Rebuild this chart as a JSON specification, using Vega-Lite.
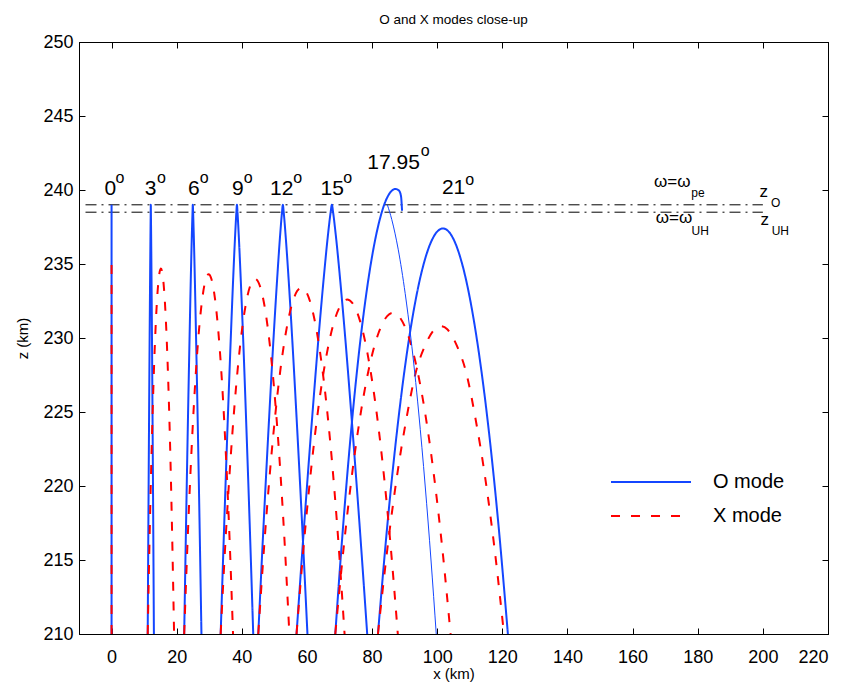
{
  "$schema": "https://vega.github.io/schema/vega-lite/v6.json",
  "width": 749,
  "height": 592,
  "autosize": {"type": "none"},
  "padding": {"left": 79, "top": 42, "right": 23, "bottom": 51},
  "background": "white",
  "title": {"text": "O and X modes close-up", "fontSize": 13.5, "fontWeight": "normal", "font": "Liberation Sans", "color": "black", "offset": 7},
  "config": {
    "font": "Liberation Sans",
    "view": {"stroke": "black", "strokeWidth": 1},
    "axis": {"grid": false, "domainColor": "black", "tickColor": "black", "labelColor": "black", "titleColor": "black", "labelFontSize": 18, "titleFontSize": 15, "titleFontWeight": "normal", "tickSize": -6, "labelFont": "Liberation Sans", "titleFont": "Liberation Sans"}
  },
  "datasets": {
    "levels": [
      {"c": "zO", "x": -8, "z": 239}, {"c": "zO", "x": 200, "z": 239},
      {"c": "zUH", "x": -8, "z": 238.5}, {"c": "zUH", "x": 200, "z": 238.5}
    ],
    "traj": [
      {"c": "O0", "m": "O mode", "x": 0, "z": 210}, {"c": "O0", "m": "O mode", "x": 0, "z": 239},
      {"c": "O3", "m": "O mode", "x": 11.10, "z": 210}, {"c": "O3", "m": "O mode", "x": 11.32, "z": 218}, {"c": "O3", "m": "O mode", "x": 11.53, "z": 225}, {"c": "O3", "m": "O mode", "x": 11.69, "z": 230}, {"c": "O3", "m": "O mode", "x": 11.83, "z": 234}, {"c": "O3", "m": "O mode", "x": 11.95, "z": 237}, {"c": "O3", "m": "O mode", "x": 12.02, "z": 238.5}, {"c": "O3", "m": "O mode", "x": 12.05, "z": 239}, {"c": "O3", "m": "O mode", "x": 12.08, "z": 238.5}, {"c": "O3", "m": "O mode", "x": 12.15, "z": 237}, {"c": "O3", "m": "O mode", "x": 12.27, "z": 234}, {"c": "O3", "m": "O mode", "x": 12.41, "z": 230}, {"c": "O3", "m": "O mode", "x": 12.57, "z": 225}, {"c": "O3", "m": "O mode", "x": 12.78, "z": 218}, {"c": "O3", "m": "O mode", "x": 13.00, "z": 210},
      {"c": "O6", "m": "O mode", "x": 22.30, "z": 210}, {"c": "O6", "m": "O mode", "x": 22.92, "z": 218}, {"c": "O6", "m": "O mode", "x": 23.50, "z": 225}, {"c": "O6", "m": "O mode", "x": 23.95, "z": 230}, {"c": "O6", "m": "O mode", "x": 24.33, "z": 234}, {"c": "O6", "m": "O mode", "x": 24.66, "z": 237}, {"c": "O6", "m": "O mode", "x": 24.86, "z": 238.5}, {"c": "O6", "m": "O mode", "x": 24.95, "z": 239}, {"c": "O6", "m": "O mode", "x": 25.04, "z": 238.5}, {"c": "O6", "m": "O mode", "x": 25.24, "z": 237}, {"c": "O6", "m": "O mode", "x": 25.57, "z": 234}, {"c": "O6", "m": "O mode", "x": 25.95, "z": 230}, {"c": "O6", "m": "O mode", "x": 26.40, "z": 225}, {"c": "O6", "m": "O mode", "x": 26.98, "z": 218}, {"c": "O6", "m": "O mode", "x": 27.60, "z": 210},
      {"c": "O9", "m": "O mode", "x": 33.50, "z": 210}, {"c": "O9", "m": "O mode", "x": 34.68, "z": 218}, {"c": "O9", "m": "O mode", "x": 35.77, "z": 225}, {"c": "O9", "m": "O mode", "x": 36.61, "z": 230}, {"c": "O9", "m": "O mode", "x": 37.34, "z": 234}, {"c": "O9", "m": "O mode", "x": 37.96, "z": 237}, {"c": "O9", "m": "O mode", "x": 38.33, "z": 238.5}, {"c": "O9", "m": "O mode", "x": 38.50, "z": 239}, {"c": "O9", "m": "O mode", "x": 38.67, "z": 238.5}, {"c": "O9", "m": "O mode", "x": 39.04, "z": 237}, {"c": "O9", "m": "O mode", "x": 39.66, "z": 234}, {"c": "O9", "m": "O mode", "x": 40.40, "z": 230}, {"c": "O9", "m": "O mode", "x": 41.23, "z": 225}, {"c": "O9", "m": "O mode", "x": 42.33, "z": 218}, {"c": "O9", "m": "O mode", "x": 43.50, "z": 210},
      {"c": "O12", "m": "O mode", "x": 45.05, "z": 210}, {"c": "O12", "m": "O mode", "x": 46.82, "z": 218}, {"c": "O12", "m": "O mode", "x": 48.48, "z": 225}, {"c": "O12", "m": "O mode", "x": 49.74, "z": 230}, {"c": "O12", "m": "O mode", "x": 50.85, "z": 234}, {"c": "O12", "m": "O mode", "x": 51.78, "z": 237}, {"c": "O12", "m": "O mode", "x": 52.34, "z": 238.5}, {"c": "O12", "m": "O mode", "x": 52.60, "z": 239}, {"c": "O12", "m": "O mode", "x": 52.86, "z": 238.5}, {"c": "O12", "m": "O mode", "x": 53.42, "z": 237}, {"c": "O12", "m": "O mode", "x": 54.36, "z": 234}, {"c": "O12", "m": "O mode", "x": 55.46, "z": 230}, {"c": "O12", "m": "O mode", "x": 56.72, "z": 225}, {"c": "O12", "m": "O mode", "x": 58.38, "z": 218}, {"c": "O12", "m": "O mode", "x": 60.15, "z": 210},
      {"c": "O15", "m": "O mode", "x": 56.80, "z": 210}, {"c": "O15", "m": "O mode", "x": 59.35, "z": 218}, {"c": "O15", "m": "O mode", "x": 61.73, "z": 225}, {"c": "O15", "m": "O mode", "x": 63.54, "z": 230}, {"c": "O15", "m": "O mode", "x": 65.13, "z": 234}, {"c": "O15", "m": "O mode", "x": 66.47, "z": 237}, {"c": "O15", "m": "O mode", "x": 67.28, "z": 238.5}, {"c": "O15", "m": "O mode", "x": 67.65, "z": 239}, {"c": "O15", "m": "O mode", "x": 68.02, "z": 238.5}, {"c": "O15", "m": "O mode", "x": 68.83, "z": 237}, {"c": "O15", "m": "O mode", "x": 70.17, "z": 234}, {"c": "O15", "m": "O mode", "x": 71.76, "z": 230}, {"c": "O15", "m": "O mode", "x": 73.57, "z": 225}, {"c": "O15", "m": "O mode", "x": 75.95, "z": 218}, {"c": "O15", "m": "O mode", "x": 78.50, "z": 210},
      {"c": "O18", "m": "O mode", "x": 68.70, "z": 210}, {"c": "O18", "m": "O mode", "x": 70.31, "z": 215}, {"c": "O18", "m": "O mode", "x": 72.09, "z": 220}, {"c": "O18", "m": "O mode", "x": 74.10, "z": 225}, {"c": "O18", "m": "O mode", "x": 76.49, "z": 230}, {"c": "O18", "m": "O mode", "x": 78.23, "z": 233}, {"c": "O18", "m": "O mode", "x": 80.39, "z": 236}, {"c": "O18", "m": "O mode", "x": 82.35, "z": 238}, {"c": "O18", "m": "O mode", "x": 83.71, "z": 239}, {"c": "O18", "m": "O mode", "x": 84.89, "z": 239.6}, {"c": "O18", "m": "O mode", "x": 85.81, "z": 239.9}, {"c": "O18", "m": "O mode", "x": 87.20, "z": 240.07}, {"c": "O18", "m": "O mode", "x": 88.30, "z": 239.95}, {"c": "O18", "m": "O mode", "x": 88.90, "z": 239.55}, {"c": "O18", "m": "O mode", "x": 89.20, "z": 238.6},
      {"c": "O21", "m": "O mode", "x": 81.80, "z": 210}, {"c": "O21", "m": "O mode", "x": 84.79, "z": 217.6}, {"c": "O21", "m": "O mode", "x": 87.79, "z": 223.97}, {"c": "O21", "m": "O mode", "x": 90.78, "z": 229.11}, {"c": "O21", "m": "O mode", "x": 93.77, "z": 233.02}, {"c": "O21", "m": "O mode", "x": 96.76, "z": 235.69}, {"c": "O21", "m": "O mode", "x": 99.76, "z": 237.13}, {"c": "O21", "m": "O mode", "x": 101.75, "z": 237.4}, {"c": "O21", "m": "O mode", "x": 103.75, "z": 237.13}, {"c": "O21", "m": "O mode", "x": 106.74, "z": 235.69}, {"c": "O21", "m": "O mode", "x": 109.73, "z": 233.02}, {"c": "O21", "m": "O mode", "x": 112.72, "z": 229.11}, {"c": "O21", "m": "O mode", "x": 115.72, "z": 223.97}, {"c": "O21", "m": "O mode", "x": 118.71, "z": 217.6}, {"c": "O21", "m": "O mode", "x": 121.70, "z": 210},
      {"c": "X0", "m": "X mode", "x": 0, "z": 210}, {"c": "X0", "m": "X mode", "x": 0, "z": 235},
      {"c": "X3", "m": "X mode", "x": 11.10, "z": 210}, {"c": "X3", "m": "X mode", "x": 11.71, "z": 216.85}, {"c": "X3", "m": "X mode", "x": 12.32, "z": 222.60}, {"c": "X3", "m": "X mode", "x": 12.92, "z": 227.23}, {"c": "X3", "m": "X mode", "x": 13.53, "z": 230.75}, {"c": "X3", "m": "X mode", "x": 14.14, "z": 233.16}, {"c": "X3", "m": "X mode", "x": 14.75, "z": 234.45}, {"c": "X3", "m": "X mode", "x": 15.15, "z": 234.7}, {"c": "X3", "m": "X mode", "x": 15.56, "z": 234.45}, {"c": "X3", "m": "X mode", "x": 16.16, "z": 233.16}, {"c": "X3", "m": "X mode", "x": 16.77, "z": 230.75}, {"c": "X3", "m": "X mode", "x": 17.38, "z": 227.23}, {"c": "X3", "m": "X mode", "x": 17.99, "z": 222.60}, {"c": "X3", "m": "X mode", "x": 18.59, "z": 216.85}, {"c": "X3", "m": "X mode", "x": 19.20, "z": 210},
      {"c": "X6", "m": "X mode", "x": 22.30, "z": 210}, {"c": "X6", "m": "X mode", "x": 23.43, "z": 216.74}, {"c": "X6", "m": "X mode", "x": 24.55, "z": 222.39}, {"c": "X6", "m": "X mode", "x": 25.68, "z": 226.95}, {"c": "X6", "m": "X mode", "x": 26.80, "z": 230.41}, {"c": "X6", "m": "X mode", "x": 27.93, "z": 232.78}, {"c": "X6", "m": "X mode", "x": 29.05, "z": 234.06}, {"c": "X6", "m": "X mode", "x": 29.80, "z": 234.3}, {"c": "X6", "m": "X mode", "x": 30.55, "z": 234.06}, {"c": "X6", "m": "X mode", "x": 31.68, "z": 232.78}, {"c": "X6", "m": "X mode", "x": 32.80, "z": 230.41}, {"c": "X6", "m": "X mode", "x": 33.93, "z": 226.95}, {"c": "X6", "m": "X mode", "x": 35.05, "z": 222.39}, {"c": "X6", "m": "X mode", "x": 36.18, "z": 216.74}, {"c": "X6", "m": "X mode", "x": 37.30, "z": 210},
      {"c": "X9", "m": "X mode", "x": 33.50, "z": 210}, {"c": "X9", "m": "X mode", "x": 35.08, "z": 216.66}, {"c": "X9", "m": "X mode", "x": 36.67, "z": 222.24}, {"c": "X9", "m": "X mode", "x": 38.25, "z": 226.74}, {"c": "X9", "m": "X mode", "x": 39.83, "z": 230.16}, {"c": "X9", "m": "X mode", "x": 41.41, "z": 232.5}, {"c": "X9", "m": "X mode", "x": 43.00, "z": 233.76}, {"c": "X9", "m": "X mode", "x": 44.05, "z": 234.0}, {"c": "X9", "m": "X mode", "x": 45.11, "z": 233.76}, {"c": "X9", "m": "X mode", "x": 46.69, "z": 232.5}, {"c": "X9", "m": "X mode", "x": 48.27, "z": 230.16}, {"c": "X9", "m": "X mode", "x": 49.85, "z": 226.74}, {"c": "X9", "m": "X mode", "x": 51.44, "z": 222.24}, {"c": "X9", "m": "X mode", "x": 53.02, "z": 216.66}, {"c": "X9", "m": "X mode", "x": 54.60, "z": 210},
      {"c": "X12", "m": "X mode", "x": 45.05, "z": 210}, {"c": "X12", "m": "X mode", "x": 47.04, "z": 216.49}, {"c": "X12", "m": "X mode", "x": 49.03, "z": 221.93}, {"c": "X12", "m": "X mode", "x": 51.01, "z": 226.32}, {"c": "X12", "m": "X mode", "x": 53.00, "z": 229.66}, {"c": "X12", "m": "X mode", "x": 54.99, "z": 231.94}, {"c": "X12", "m": "X mode", "x": 56.98, "z": 233.17}, {"c": "X12", "m": "X mode", "x": 58.30, "z": 233.4}, {"c": "X12", "m": "X mode", "x": 59.63, "z": 233.17}, {"c": "X12", "m": "X mode", "x": 61.61, "z": 231.94}, {"c": "X12", "m": "X mode", "x": 63.60, "z": 229.66}, {"c": "X12", "m": "X mode", "x": 65.59, "z": 226.32}, {"c": "X12", "m": "X mode", "x": 67.58, "z": 221.93}, {"c": "X12", "m": "X mode", "x": 69.56, "z": 216.49}, {"c": "X12", "m": "X mode", "x": 71.55, "z": 210},
      {"c": "X15", "m": "X mode", "x": 56.80, "z": 210}, {"c": "X15", "m": "X mode", "x": 59.13, "z": 216.27}, {"c": "X15", "m": "X mode", "x": 61.47, "z": 221.53}, {"c": "X15", "m": "X mode", "x": 63.80, "z": 225.76}, {"c": "X15", "m": "X mode", "x": 66.13, "z": 228.98}, {"c": "X15", "m": "X mode", "x": 68.46, "z": 231.19}, {"c": "X15", "m": "X mode", "x": 70.80, "z": 232.37}, {"c": "X15", "m": "X mode", "x": 72.35, "z": 232.6}, {"c": "X15", "m": "X mode", "x": 73.91, "z": 232.37}, {"c": "X15", "m": "X mode", "x": 76.24, "z": 231.19}, {"c": "X15", "m": "X mode", "x": 78.57, "z": 228.98}, {"c": "X15", "m": "X mode", "x": 80.90, "z": 225.76}, {"c": "X15", "m": "X mode", "x": 83.24, "z": 221.53}, {"c": "X15", "m": "X mode", "x": 85.57, "z": 216.27}, {"c": "X15", "m": "X mode", "x": 87.90, "z": 210},
      {"c": "X18", "m": "X mode", "x": 68.70, "z": 210}, {"c": "X18", "m": "X mode", "x": 71.36, "z": 216.02}, {"c": "X18", "m": "X mode", "x": 74.01, "z": 221.07}, {"c": "X18", "m": "X mode", "x": 76.67, "z": 225.14}, {"c": "X18", "m": "X mode", "x": 79.32, "z": 228.23}, {"c": "X18", "m": "X mode", "x": 81.98, "z": 230.34}, {"c": "X18", "m": "X mode", "x": 84.63, "z": 231.48}, {"c": "X18", "m": "X mode", "x": 86.40, "z": 231.7}, {"c": "X18", "m": "X mode", "x": 88.17, "z": 231.48}, {"c": "X18", "m": "X mode", "x": 90.83, "z": 230.34}, {"c": "X18", "m": "X mode", "x": 93.48, "z": 228.23}, {"c": "X18", "m": "X mode", "x": 96.14, "z": 225.14}, {"c": "X18", "m": "X mode", "x": 98.79, "z": 221.07}, {"c": "X18", "m": "X mode", "x": 101.45, "z": 216.02}, {"c": "X18", "m": "X mode", "x": 104.10, "z": 210},
      {"c": "X21", "m": "X mode", "x": 81.80, "z": 210}, {"c": "X21", "m": "X mode", "x": 84.70, "z": 215.77}, {"c": "X21", "m": "X mode", "x": 87.61, "z": 220.61}, {"c": "X21", "m": "X mode", "x": 90.51, "z": 224.51}, {"c": "X21", "m": "X mode", "x": 93.41, "z": 227.67}, {"c": "X21", "m": "X mode", "x": 96.31, "z": 229.5}, {"c": "X21", "m": "X mode", "x": 99.22, "z": 230.59}, {"c": "X21", "m": "X mode", "x": 101.15, "z": 230.8}, {"c": "X21", "m": "X mode", "x": 103.09, "z": 230.59}, {"c": "X21", "m": "X mode", "x": 105.99, "z": 229.5}, {"c": "X21", "m": "X mode", "x": 108.89, "z": 227.67}, {"c": "X21", "m": "X mode", "x": 111.79, "z": 224.51}, {"c": "X21", "m": "X mode", "x": 114.70, "z": 220.61}, {"c": "X21", "m": "X mode", "x": 117.60, "z": 215.77}, {"c": "X21", "m": "X mode", "x": 120.50, "z": 210}
    ],
    "thin": [
      {"x": 84.69, "z": 239}, {"x": 86.05, "z": 238}, {"x": 88.01, "z": 236}, {"x": 90.17, "z": 233}, {"x": 91.91, "z": 230}, {"x": 94.30, "z": 225}, {"x": 96.31, "z": 220}, {"x": 98.09, "z": 215}, {"x": 99.70, "z": 210}
    ],
    "angles": [
      {"t": "0", "x": -0.4, "z": 239.66}, {"t": "3", "x": 12.0, "z": 239.66}, {"t": "6", "x": 25.23, "z": 239.66}, {"t": "9", "x": 38.77, "z": 239.66}, {"t": "12", "x": 52.25, "z": 239.66}, {"t": "15", "x": 67.78, "z": 239.66}, {"t": "17.95", "x": 86.62, "z": 241.40}, {"t": "21", "x": 105.02, "z": 239.71}
    ],
    "degs": [
      {"x": 1.23, "z": 240.45}, {"x": 13.94, "z": 240.45}, {"x": 27.08, "z": 240.45}, {"x": 40.62, "z": 240.45}, {"x": 55.78, "z": 240.45}, {"x": 71.17, "z": 240.45}, {"x": 94.98, "z": 242.30}, {"x": 108.6, "z": 240.34}
    ],
    "bigsym": [
      {"t": "ω=ω", "x": 166.6, "z": 240.22}, {"t": "z", "x": 198.97, "z": 239.55}, {"t": "ω=ω", "x": 167.1, "z": 237.75}, {"t": "z", "x": 199.3, "z": 237.64}
    ],
    "subs": [
      {"t": "pe", "x": 178.0, "z": 239.51}, {"t": "O", "x": 202.5, "z": 238.87}, {"t": "UH", "x": 178.1, "z": 236.96}, {"t": "UH", "x": 202.7, "z": 236.96}
    ]
  },
  "layer": [
    {
      "layer": [
        {
          "data": {"name": "levels"},
          "mark": {"type": "line", "color": "black", "strokeWidth": 1, "strokeDash": [11, 5, 2, 5]},
          "encoding": {
            "x": {"field": "x", "type": "quantitative", "scale": {"domain": [-10, 220], "nice": false, "zero": false}, "axis": {"orient": "bottom", "values": [0, 20, 40, 60, 80, 100, 120, 140, 160, 180, 200, 220], "title": "x (km)", "labelPadding": 20, "titlePadding": 0}},
            "y": {"field": "z", "type": "quantitative", "scale": {"domain": [210, 250], "nice": false, "zero": false}, "axis": {"orient": "left", "values": [210, 215, 220, 225, 230, 235, 240, 245, 250], "title": "z (km)", "labelPadding": 12, "titlePadding": 12}},
            "detail": {"field": "c"}
          }
        },
        {
          "data": {"name": "traj"},
          "mark": {"type": "line", "strokeWidth": 2, "interpolate": "monotone"},
          "encoding": {
            "x": {"field": "x", "type": "quantitative", "title": "x (km)"},
            "y": {"field": "z", "type": "quantitative", "title": "z (km)"},
            "detail": {"field": "c"},
            "color": {"field": "m", "type": "nominal", "scale": {"domain": ["O mode", "X mode"], "range": ["#1446ff", "#ff0000"]},
              "legend": {"orient": "none", "legendX": 561, "legendY": 429, "title": null, "symbolType": "M-4,0H4", "symbolSize": 400, "symbolStrokeWidth": 2, "labelFontSize": 20, "labelOffset": 51, "labelColor": "black", "rowPadding": 13}},
            "strokeDash": {"field": "m", "type": "nominal", "scale": {"domain": ["O mode", "X mode"], "range": [[1, 0], [9, 11]]},
              "legend": {"orient": "none", "legendX": 561, "legendY": 429, "title": null, "symbolType": "M-4,0H4", "symbolSize": 400, "symbolStrokeWidth": 2, "labelFontSize": 20, "labelOffset": 51, "labelColor": "black", "rowPadding": 13}}
          }
        },
        {
          "data": {"name": "thin"},
          "mark": {"type": "line", "strokeWidth": 1, "color": "#1446ff", "interpolate": "monotone"},
          "encoding": {
            "x": {"field": "x", "type": "quantitative", "title": "x (km)"},
            "y": {"field": "z", "type": "quantitative", "title": "z (km)"}
          }
        },
        {
          "data": {"name": "angles"},
          "mark": {"type": "text", "fontSize": 21, "align": "center", "baseline": "alphabetic", "color": "black"},
          "encoding": {
            "x": {"field": "x", "type": "quantitative", "title": "x (km)"},
            "y": {"field": "z", "type": "quantitative", "title": "z (km)"},
            "text": {"field": "t"}
          }
        },
        {
          "data": {"name": "degs"},
          "mark": {"type": "text", "fontSize": 16, "align": "left", "baseline": "alphabetic", "color": "black", "text": "o"},
          "encoding": {
            "x": {"field": "x", "type": "quantitative", "title": "x (km)"},
            "y": {"field": "z", "type": "quantitative", "title": "z (km)"}
          }
        },
        {
          "data": {"name": "bigsym"},
          "mark": {"type": "text", "fontSize": 17, "align": "left", "baseline": "alphabetic", "color": "black"},
          "encoding": {
            "x": {"field": "x", "type": "quantitative", "title": "x (km)"},
            "y": {"field": "z", "type": "quantitative", "title": "z (km)"},
            "text": {"field": "t"}
          }
        },
        {
          "data": {"name": "subs"},
          "mark": {"type": "text", "fontSize": 12, "align": "left", "baseline": "alphabetic", "color": "black"},
          "encoding": {
            "x": {"field": "x", "type": "quantitative", "title": "x (km)"},
            "y": {"field": "z", "type": "quantitative", "title": "z (km)"},
            "text": {"field": "t"}
          }
        }
      ]
    },
    {
      "data": {"name": "levels"},
      "mark": {"type": "point", "opacity": 0},
      "encoding": {
        "x": {"field": "x", "type": "quantitative", "scale": {"domain": [-10, 220], "nice": false, "zero": false}, "axis": {"orient": "top", "values": [0, 20, 40, 60, 80, 100, 120, 140, 160, 180, 200, 220], "labels": false, "title": null}},
        "y": {"field": "z", "type": "quantitative", "scale": {"domain": [210, 250], "nice": false, "zero": false}, "axis": {"orient": "right", "values": [210, 215, 220, 225, 230, 235, 240, 245, 250], "labels": false, "title": null}}
      }
    }
  ],
  "resolve": {"axis": {"x": "independent", "y": "independent"}}
}
